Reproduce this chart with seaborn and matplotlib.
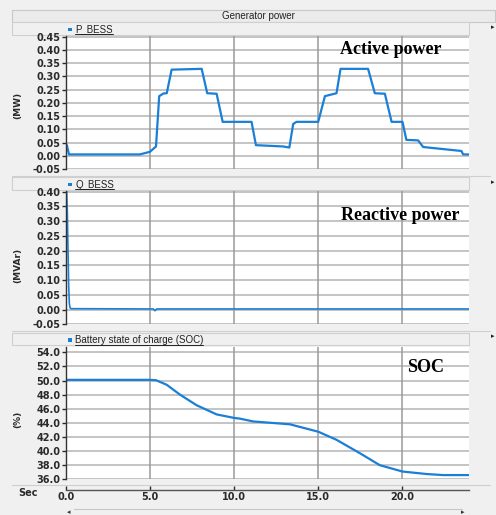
import matplotlib
matplotlib.use("Agg")
import matplotlib.pyplot as plt
import numpy as np
import pandas as pd
import seaborn as sns
from matplotlib.lines import Line2D
from matplotlib.patches import Rectangle

# ---------------- data ----------------
p_time = [0.0, 0.05, 0.18, 4.4, 5.0, 5.36, 5.55, 5.8, 6.0, 6.29, 8.08, 8.41, 8.97, 9.33,
          11.05, 11.31, 12.94, 13.3, 13.53, 13.73, 15.02, 15.42, 16.11, 16.35, 17.99,
          18.39, 18.99, 19.39, 20.04, 20.27, 20.97, 21.27, 23.55, 23.65, 24.0]
p_mw = [0.035, 0.04, 0.005, 0.005, 0.015, 0.035, 0.225, 0.235, 0.236, 0.325, 0.328,
        0.236, 0.234, 0.128, 0.128, 0.04, 0.035, 0.031, 0.12, 0.128, 0.128, 0.225,
        0.236, 0.328, 0.328, 0.236, 0.234, 0.128, 0.128, 0.06, 0.058, 0.033, 0.018,
        0.005, 0.005]

q_time = [0.0, 0.04, 0.08, 0.12, 0.16, 0.2, 0.24, 0.3, 5.2, 5.3, 5.4, 24.0]
q_mvar = [0.47, 0.40, 0.33, 0.20, 0.08, 0.02, 0.006, 0.003, 0.002, -0.004, 0.002, 0.002]

soc_time = [0.0, 5.0, 5.36, 6.0, 6.79, 7.78, 8.97, 10.02, 10.36, 11.15, 13.33, 15.02,
            16.11, 17.5, 18.69, 20.04, 21.47, 22.44, 24.0]
soc_pct = [50.1, 50.1, 50.05, 49.4, 48.0, 46.5, 45.2, 44.7, 44.6, 44.2, 43.8, 42.75,
           41.6, 39.7, 38.0, 37.1, 36.75, 36.6, 36.6]

p_ticks = [-0.05, 0.0, 0.05, 0.10, 0.15, 0.20, 0.25, 0.30, 0.35, 0.40, 0.45]
q_ticks = [-0.05, 0.0, 0.05, 0.10, 0.15, 0.20, 0.25, 0.30, 0.35, 0.40]
soc_ticks = [36.0, 38.0, 40.0, 42.0, 44.0, 46.0, 48.0, 50.0, 52.0, 54.0]
x_ticks = [0.0, 5.0, 10.0, 15.0, 20.0]

panel_names = ["P_BESS", "Q_BESS", "Battery state of charge (SOC)"]
unit_labels = ["(MW)", "(MVAr)", "(%)"]
notes = ["Active power", "Reactive power", "SOC"]
title = "Generator power"

# ---------------- figure ----------------
sns.set_style("white")
plt.rcParams["font.family"] = ["DejaVu Sans"]

W, H = 496, 515
BG = "#f0f0f0"
BLUE = "#1a7fd6"
TXT = "#2a2a2a"

def fx(x):
    return x / W

def fy(y):
    return 1 - y / H

def box(x0, y0, x1, y1):
    return [fx(x0), fy(y1), fx(x1) - fx(x0), fy(y0) - fy(y1)]

fig = plt.figure(figsize=(W / 100, H / 100), dpi=100, facecolor=BG)

# window chrome (kept below the axes)
fig.patches.append(Rectangle((fx(12), fy(22)), fx(495) - fx(12), fy(10) - fy(22),
                             transform=fig.transFigure, facecolor="#ebebeb",
                             edgecolor="#c8c8c8", lw=0.8, zorder=-2))
fig.text(fx(258), fy(16), title, ha="center", va="center", fontsize=7,
         family="Liberation Sans", color="#222222")

for (y0, y1) in [(22, 35), (177, 190), (333, 345)]:
    fig.patches.append(Rectangle((fx(12), fy(y1)), fx(469) - fx(12), fy(y0) - fy(y1),
                                 transform=fig.transFigure, facecolor="#f0f0f0",
                                 edgecolor="#cfcfcf", lw=0.8, zorder=-2))
for yy in [176, 331, 485]:
    fig.lines.append(Line2D([fx(12), fx(490)], [fy(yy), fy(yy)], transform=fig.transFigure,
                            color="#cfcfcf", lw=0.8, zorder=-2))
for yy in [27, 182, 336]:
    fig.text(fx(493), fy(yy), "\u25b8", ha="center", va="center", fontsize=5, color="#222")

# scrollbar at bottom
fig.lines.append(Line2D([fx(74), fx(462)], [fy(509), fy(509)], transform=fig.transFigure,
                        color="#c8c8c8", lw=0.8, zorder=-2))
fig.text(fx(69), fy(512), "\u25c2", ha="center", va="center", fontsize=5, color="#333")
fig.text(fx(463), fy(512), "\u25b8", ha="center", va="center", fontsize=5, color="#333")

specs = [
    (36.0, 169.0, (-0.05, 0.452), p_ticks, "{:.2f}", p_time, p_mw, 1.6),
    (191.0, 324.3, (-0.05, 0.402), q_ticks, "{:.2f}", q_time, q_mvar, 1.2),
    (346.7, 479.3, (36.0, 54.8), soc_ticks, "{:.1f}", soc_time, soc_pct, 1.6),
]
ylab_y = [105, 265, 419]
note_pos = [(391, 50), (400, 216), (426, 368)]

axes = []
for i, (top, bot, ylim, yt, fmt, xs, ys, lw) in enumerate(specs):
    ax = fig.add_axes(box(66, top, 469, bot))
    ax.set_facecolor("white")
    df = pd.DataFrame({"t": xs, "v": ys})
    sns.lineplot(data=df, x="t", y="v", ax=ax, color=BLUE, linewidth=lw, legend=False)
    ax.set_xlim(0, 24)
    ax.set_ylim(*ylim)
    ax.set_yticks(yt)
    ax.set_yticklabels([fmt.format(v) for v in yt], fontweight="bold")
    ax.set_xticks(x_ticks)
    ax.set_xlabel("")
    ax.set_ylabel("")
    ax.grid(False)
    for v in yt:
        ax.axhline(v, color="#b4b4b4", lw=1.1, zorder=0.5)
    for v in x_ticks[1:]:
        ax.axvline(v, color="#9a9a9a", lw=1.1, zorder=0.6)
    for s in ["top", "right", "bottom"]:
        ax.spines[s].set_visible(False)
    ax.spines["left"].set_color("#333333")
    ax.spines["left"].set_linewidth(1.0)
    ax.tick_params(axis="y", length=3, width=1, pad=1, labelsize=7,
                   colors=TXT, left=True)
    if i < 2:
        ax.tick_params(axis="x", bottom=False, labelbottom=False)
    else:
        ax.spines["bottom"].set_visible(True)
        ax.spines["bottom"].set_position(("outward", 8))
        ax.spines["bottom"].set_color("#555555")
        ax.spines["bottom"].set_linewidth(1.0)
        ax.set_xticklabels(["{:.1f}".format(v) for v in x_ticks], fontweight="bold")
        ax.tick_params(axis="x", bottom=True, direction="in", length=3, width=1,
                       pad=1.5, labelsize=7, colors=TXT)
    axes.append(ax)

    # legend in header
    fig.patches.append(Rectangle((fx(68), fy(top - 5)), fx(72) - fx(68), fy(top - 8.5) - fy(top - 5),
                                 transform=fig.transFigure, facecolor=BLUE, edgecolor="none",
                                 zorder=3))
    fig.text(fx(75), fy(top - 6.5), panel_names[i], ha="left", va="center", fontsize=7,
             family="Liberation Sans", color="#222222")
    # unit label
    fig.text(fx(18), fy(ylab_y[i]), unit_labels[i], rotation=90, ha="center", va="center",
             fontsize=6.5, color=TXT, weight="bold")
    # annotation
    fig.text(fx(note_pos[i][0]), fy(note_pos[i][1]), notes[i], ha="center", va="center",
             fontsize=13, family="Liberation Serif", weight="bold", color="black")

fig.text(fx(28), fy(493), "Sec", ha="center", va="center", fontsize=7, color=TXT,
         weight="bold")

# underline the legend labels
fig.canvas.draw()
renderer = fig.canvas.get_renderer()
for t in list(fig.texts):
    if t.get_text() in panel_names:
        bb = t.get_window_extent(renderer)
        yline = bb.y0 + 0.5
        fig.lines.append(Line2D([bb.x0 / fig.bbox.width, bb.x1 / fig.bbox.width],
                                [yline / fig.bbox.height, yline / fig.bbox.height],
                                transform=fig.transFigure, color="#222222", lw=0.7))

fig.savefig("out.png", dpi=100, facecolor=BG)
